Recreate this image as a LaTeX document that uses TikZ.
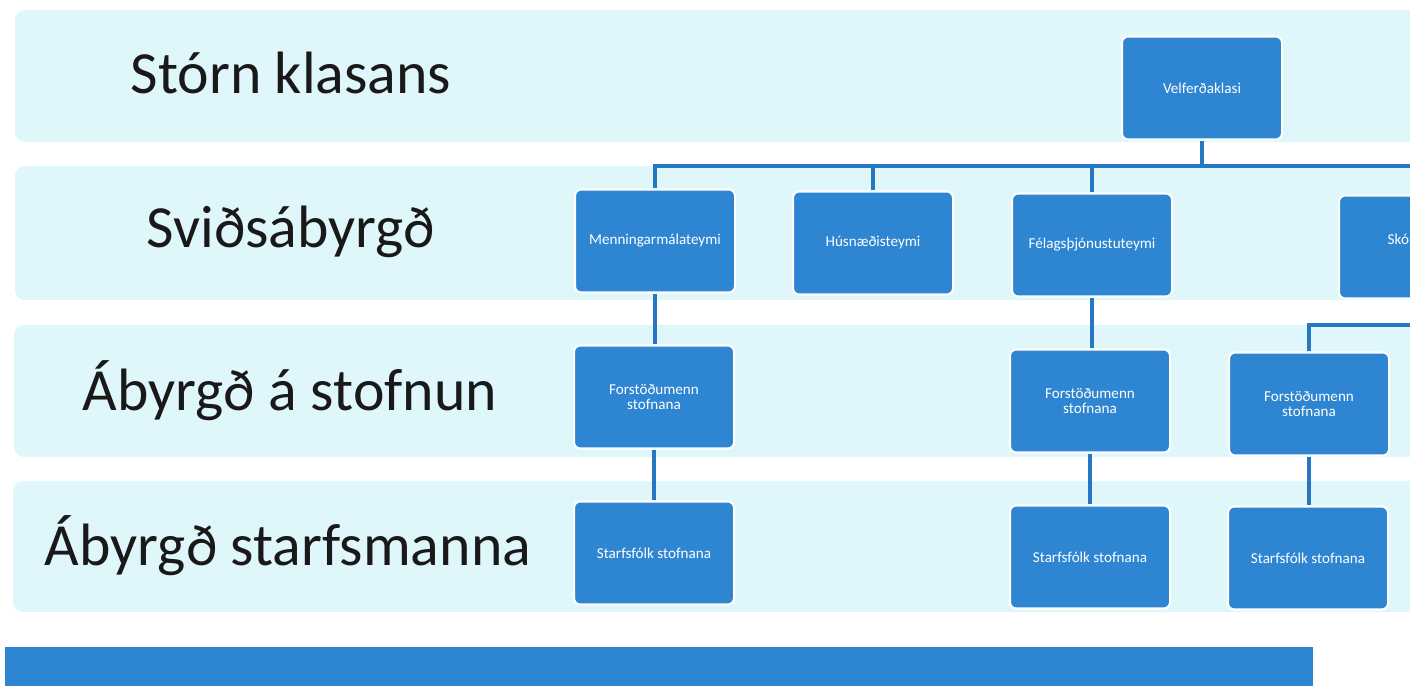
\documentclass[tikz,border=0pt]{standalone}
\usepackage{fontspec}
\setmainfont{Carlito}
\usetikzlibrary{calc}
\definecolor{bandcyan}{RGB}{223,247,251}
\definecolor{boxblue}{RGB}{46,133,210}
\definecolor{lineblue}{RGB}{38,118,196}
\definecolor{labelgray}{RGB}{25,25,25}
\tikzset{
  unit/.style={rectangle,rounded corners=1.8pt,fill=boxblue,draw=white,line width=0.6pt,
    minimum width=1.6cm,minimum height=1.03cm,text=white,align=center,
    font=\fontsize{4.3pt}{4.3pt}\selectfont},
  tier/.style={anchor=base,text=labelgray,font=\fontsize{17pt}{20pt}\selectfont},
  link/.style={draw=lineblue,line width=1.4pt},
}

\begin{document}
\begin{tikzpicture}[x=0.01cm,y=-0.01cm]
                      \useasboundingbox (0,0) rectangle (1410,698);
                      \clip (0,0) rectangle (1410,698);
                      % bands
                      \fill[bandcyan,rounded corners=2.8pt] (15,10) rectangle (1440,142);
                      \fill[bandcyan,rounded corners=2.8pt] (15,166) rectangle (1440,300);
                      \fill[bandcyan,rounded corners=2.8pt] (14,325) rectangle (1440,457);
                      \fill[bandcyan,rounded corners=2.8pt] (13,481) rectangle (1440,612);
                      \fill[boxblue] (5,647) rectangle (1313,686);
                      % level names
                      \node[tier](stjorn)at(291,94){Stórn klasans};
                      \node[tier](svid)at(291,248){Sviðsábyrgð};
                      \node[tier](stofnun)at(290,411){Ábyrgð á stofnun};
                      \node[tier](starfsm)at(288,566){Ábyrgð starfsmanna};
                      % boxes
                      \node[unit](velf)at(1202,88){Velferðaklasi};
                      \node[unit](menn)at(655,241){Menningarmálateymi};
                      \node[unit](hus)at(873,243){Húsnæðisteymi};
                      \node[unit](fel)at(1092,245){Félagsþjónustuteymi};
                      \node[unit](sko)at(1419,247){};
                      \node[text=white,font=\fontsize{4.3pt}{4.3pt}\selectfont,anchor=base west,inner sep=0pt](skotxt)at(1387,245){Skó};
                      \node[unit](forA)at(654,397){Forstöðumenn\\stofnana};
                      \node[unit](forB)at(1090,401){Forstöðumenn\\stofnana};
                      \node[unit](forC)at(1309,404){Forstöðumenn\\stofnana};
                      \node[unit](staA)at(654,553){Starfsfólk stofnana};
                      \node[unit](staB)at(1090,557){Starfsfólk stofnana};
                      \node[unit](staC)at(1308,558){Starfsfólk stofnana};
                      % connectors
                      \coordinate (busR) at (1430,166);
                      \coordinate (skoR) at (1430,325);
                      \draw[link] (menn.north) |- (busR);
                      \draw[link] (hus.north) -- (hus.north |- busR);
                      \draw[link] (fel.north) -- (fel.north |- busR);
                      \draw[link] (velf.south) -- (velf.south |- busR);
                      \draw[link] (forC.north) |- (skoR);
                      \draw[link] (menn.south) -- (menn.south |- forA.north);
                      \draw[link] (forA.south) -- (staA.north);
                      \draw[link] (fel.south) -- (fel.south |- forB.north);
                      \draw[link] (forB.south) -- (forB.south |- staB.north);
                      \draw[link] (forC.south) -- (forC.south |- staC.north);
                  \end{tikzpicture}
\end{document}
